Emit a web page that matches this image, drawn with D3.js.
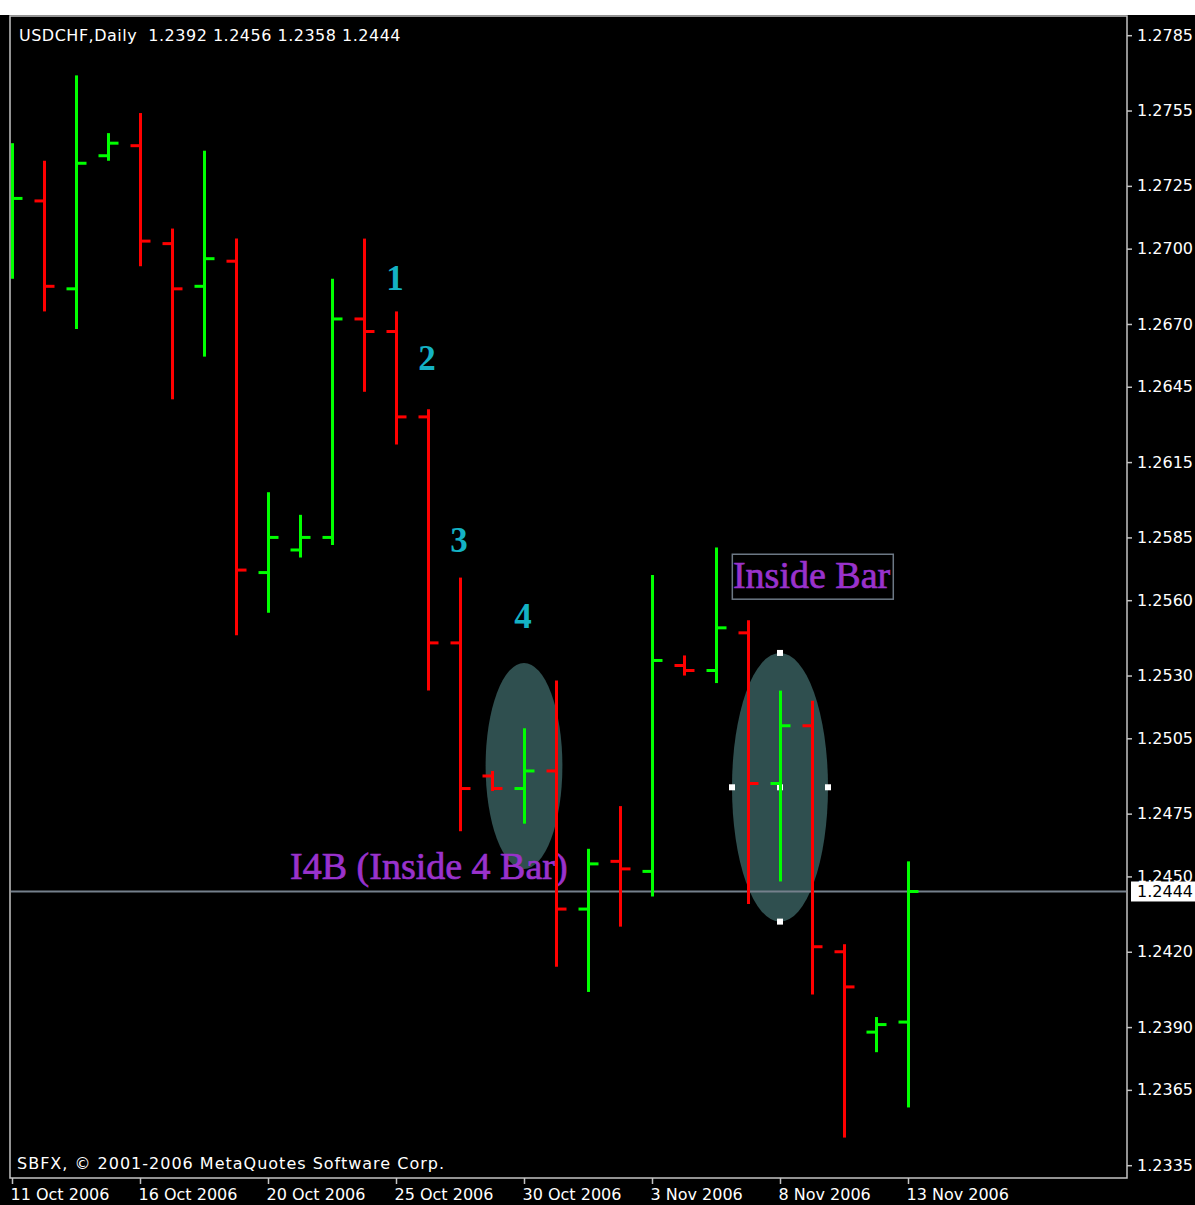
<!DOCTYPE html>
<html>
<head>
<meta charset="utf-8">
<script src="https://cdn.jsdelivr.net/npm/d3@7"></script>
<style>
    body { margin: 0; background: #000; }
    svg { display: block; }
</style>
</head>
<body>
<div id="chart"></div>
<script>
//Bar dates (MT4 daily, with sunday bars)
const dates = ["11 Oct 2006", "12 Oct 2006", "13 Oct 2006", "15 Oct 2006", "16 Oct 2006", "17 Oct 2006",
    "18 Oct 2006", "19 Oct 2006", "20 Oct 2006", "22 Oct 2006", "23 Oct 2006", "24 Oct 2006", "25 Oct 2006",
    "26 Oct 2006", "27 Oct 2006", "29 Oct 2006", "30 Oct 2006", "31 Oct 2006", "1 Nov 2006", "2 Nov 2006",
    "3 Nov 2006", "5 Nov 2006", "6 Nov 2006", "7 Nov 2006", "8 Nov 2006", "9 Nov 2006", "10 Nov 2006",
    "12 Nov 2006", "13 Nov 2006"];

//OHLC series
const opens = [1.2705, 1.2719, 1.2684, 1.2737, 1.2741, 1.2702, 1.2685, 1.2695, 1.2571, 1.2580, 1.2585, 1.2672,
    1.2667, 1.2633, 1.2543, 1.2490, 1.2485, 1.2492, 1.2437, 1.2456, 1.2452, 1.2534, 1.2532, 1.2547, 1.2487,
    1.2510, 1.2420, 1.2388, 1.2392];
const highs = [1.2742, 1.2735, 1.2769, 1.2746, 1.2754, 1.2708, 1.2739, 1.2704, 1.2603, 1.2594, 1.2688, 1.2704,
    1.2675, 1.2636, 1.2569, 1.2492, 1.2509, 1.2528, 1.2461, 1.2478, 1.2570, 1.2538, 1.2581, 1.2552, 1.2524,
    1.2520, 1.2423, 1.2394, 1.2456];
const lows = [1.2688, 1.2675, 1.2668, 1.2735, 1.2693, 1.2640, 1.2657, 1.2546, 1.2555, 1.2577, 1.2582, 1.2643,
    1.2622, 1.2524, 1.2468, 1.2484, 1.2471, 1.2414, 1.2404, 1.2430, 1.2442, 1.2530, 1.2527, 1.2439, 1.2448,
    1.2403, 1.2346, 1.2380, 1.2358];
const closes = [1.2720, 1.2685, 1.2734, 1.2742, 1.2703, 1.2684, 1.2696, 1.2572, 1.2585, 1.2585, 1.2672, 1.2667,
    1.2633, 1.2543, 1.2485, 1.2485, 1.2492, 1.2437, 1.2455, 1.2453, 1.2536, 1.2532, 1.2549, 1.2487, 1.2510,
    1.2422, 1.2406, 1.2391, 1.2444];

//Axis ticks
const priceTicks = [1.2785, 1.2755, 1.2725, 1.2700, 1.2670, 1.2645, 1.2615, 1.2585, 1.2560, 1.2530, 1.2505,
    1.2475, 1.2450, 1.2420, 1.2390, 1.2365, 1.2335];
const dateTicks = [0, 4, 8, 12, 16, 20, 24, 28];

//Annotations (bar index / price)
const numberLabels = ["1", "2", "3", "4"];
const numberBars = [12, 13, 14, 16];
const numberPrices = [1.26835, 1.26517, 1.25793, 1.25488];
const ovalBars = [16, 24];
const ovalPrices = [1.2494, 1.24855];
const ovalHalfBars = [1.2, 1.5];
const ovalHalfPrices = [0.0041, 0.00535];

//Width and height
var w = 1195;
var h = 1205;
var frame = { left: 10, top: 16, right: 1127, bottom: 1178 };
var uiFont = "'DejaVu Sans', Verdana, sans-serif";
var serifFont = "'Liberation Serif', 'Times New Roman', serif";
var fmt = d3.format(".4f");

var svg = d3.select("#chart")
    .append("svg")
    .attr("width", w)
    .attr("height", h);

svg.append("rect").attr("width", w).attr("height", h).attr("fill", "#000");
svg.append("rect").attr("width", w).attr("height", 15).attr("fill", "#fff");

//Scales
var x = d3.scaleLinear().domain([0, 28]).range([12, 908]);
var y = d3.scaleLinear().domain([1.2335, 1.2785]).range([1165.2, 35.2]);

svg.append("clipPath")
    .attr("id", "plot")
    .append("rect")
    .attr("x", frame.left + 1)
    .attr("y", frame.top + 1)
    .attr("width", frame.right - frame.left - 2)
    .attr("height", frame.bottom - frame.top - 2);

var plot = svg.append("g").attr("clip-path", "url(#plot)");

//Ellipses
ovalBars.forEach((b, k) => {
    var cx = x(b), cy = y(ovalPrices[k]);
    var rx = x(b + ovalHalfBars[k]) - cx;
    var ry = y(ovalPrices[k] - ovalHalfPrices[k]) - cy;
    plot.append("ellipse")
        .attr("cx", cx).attr("cy", cy)
        .attr("rx", rx).attr("ry", ry)
        .attr("fill", "#2f4f4f");
    if (k == 1) {
        var pts = [[cx, cy - ry], [cx, cy + ry], [cx - rx, cy], [cx + rx, cy], [cx, cy]];
        plot.selectAll(null)
            .data(pts)
            .join("rect")
            .attr("x", d => d[0] - 3)
            .attr("y", d => d[1] - 3)
            .attr("width", 6)
            .attr("height", 6)
            .attr("fill", "#fff");
    }
});

//Current price line
plot.append("line")
    .attr("x1", frame.left).attr("x2", frame.right)
    .attr("y1", y(closes[28])).attr("y2", y(closes[28]))
    .attr("stroke", "#75808c")
    .attr("stroke-width", 2);

//Text annotations
plot.selectAll(".num")
    .data(numberLabels)
    .join("text")
    .attr("class", "num")
    .attr("x", (d, i) => x(numberBars[i]) - 1)
    .attr("y", (d, i) => y(numberPrices[i]))
    .attr("text-anchor", "middle")
    .attr("font-family", serifFont)
    .attr("font-size", 35)
    .attr("font-weight", "bold")
    .attr("fill", "#14b2c4")
    .text(d => d);

plot.append("rect")
    .attr("x", x(22.51))
    .attr("y", y(1.25783))
    .attr("width", x(27.54) - x(22.51))
    .attr("height", y(1.25604) - y(1.25783))
    .attr("fill", "none")
    .attr("stroke", "#6c7884")
    .attr("stroke-width", 1.5);

plot.append("text")
    .attr("x", x(22.53))
    .attr("y", y(1.25647))
    .attr("font-family", serifFont)
    .attr("font-size", 38)
    .attr("fill", "#9932cc")
    .attr("stroke", "#9932cc")
    .attr("stroke-width", 0.7)
    .text("Inside Bar");

plot.append("text")
    .attr("x", x(8.69))
    .attr("y", y(1.24488))
    .attr("font-family", serifFont)
    .attr("font-size", 38)
    .attr("fill", "#9932cc")
    .attr("stroke", "#9932cc")
    .attr("stroke-width", 0.7)
    .text("I4B (Inside 4 Bar)");

//OHLC bars (x + 0.5 keeps the 3px strokes on whole pixels)
var bars = plot.selectAll(".bar")
    .data(dates)
    .join("g")
    .attr("class", "bar")
    .attr("transform", "translate(0.5,0)")
    .attr("stroke", (d, i) => closes[i] >= opens[i] ? "#00ff00" : "#ff0000")
    .attr("stroke-width", 3);

bars.append("line")
    .attr("x1", (d, i) => x(i)).attr("x2", (d, i) => x(i))
    .attr("y1", (d, i) => y(highs[i])).attr("y2", (d, i) => y(lows[i]));

bars.append("line")
    .attr("x1", (d, i) => x(i) - 10).attr("x2", (d, i) => x(i))
    .attr("y1", (d, i) => y(opens[i])).attr("y2", (d, i) => y(opens[i]));

bars.append("line")
    .attr("x1", (d, i) => x(i)).attr("x2", (d, i) => x(i) + 10)
    .attr("y1", (d, i) => y(closes[i])).attr("y2", (d, i) => y(closes[i]));

//Frame
svg.append("rect")
    .attr("x", frame.left)
    .attr("y", frame.top)
    .attr("width", frame.right - frame.left)
    .attr("height", frame.bottom - frame.top)
    .attr("fill", "none")
    .attr("stroke", "#c4c4c4")
    .attr("stroke-width", 1.5);

//Price axis
var yAxis = svg.append("g")
    .attr("transform", `translate(${frame.right},0)`)
    .call(d3.axisRight(y).tickValues(priceTicks).tickFormat(fmt).tickSize(5).tickPadding(5));
yAxis.select(".domain").remove();
yAxis.selectAll("line").attr("stroke", "#c4c4c4").attr("stroke-width", 1.5);
yAxis.selectAll("text")
    .attr("fill", "#fff")
    .style("font-family", uiFont)
    .style("font-size", "16px");

//Date axis
var xAxis = svg.append("g")
    .attr("transform", `translate(0,${frame.bottom})`)
    .call(d3.axisBottom(x).tickValues(dateTicks).tickFormat(i => dates[i]).tickSize(6).tickPadding(5));
xAxis.select(".domain").remove();
xAxis.selectAll("line").attr("stroke", "#c4c4c4").attr("stroke-width", 1.5);
xAxis.selectAll("text")
    .attr("text-anchor", "start")
    .attr("x", -2)
    .attr("fill", "#fff")
    .style("font-family", uiFont)
    .style("font-size", "16px");

//Current price label (covers the lower half of the 1.2450 label, as in MT4)
var yc = y(closes[28]);
svg.append("rect")
    .attr("x", 1131).attr("y", yc - 10)
    .attr("width", 64).attr("height", 20)
    .attr("fill", "#fff");
svg.append("text")
    .attr("x", 1137).attr("y", yc)
    .attr("dy", "0.35em")
    .attr("fill", "#000")
    .style("font-family", uiFont)
    .style("font-size", "16px")
    .text(fmt(closes[28]));

//Title and copyright
svg.append("text")
    .attr("x", 19).attr("y", 41)
    .attr("xml:space", "preserve")
    .attr("fill", "#fff")
    .style("font-family", uiFont)
    .style("font-size", "16px")
    .style("letter-spacing", "0.5px")
    .style("white-space", "pre")
    .text(`USDCHF,Daily  ${fmt(opens[28])} ${fmt(highs[28])} ${fmt(lows[28])} ${fmt(closes[28])}`);

svg.append("text")
    .attr("x", 17).attr("y", 1169)
    .attr("fill", "#fff")
    .style("font-family", uiFont)
    .style("font-size", "16px")
    .style("letter-spacing", "1px")
    .text("SBFX, © 2001-2006 MetaQuotes Software Corp.");
</script>
</body>
</html>
